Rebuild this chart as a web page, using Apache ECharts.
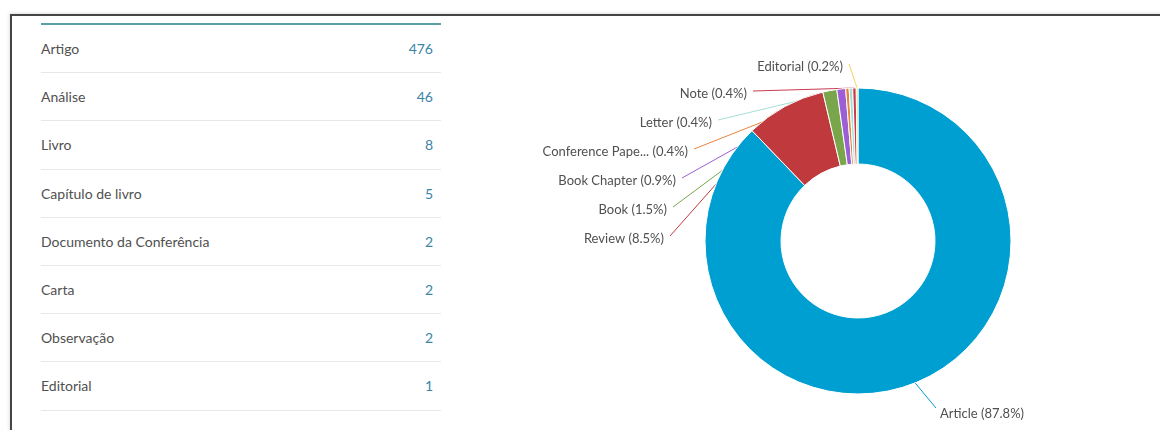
<!DOCTYPE html>
<html>
<head>
<meta charset="utf-8">
<script src="https://cdn.jsdelivr.net/npm/echarts@6/dist/echarts.min.js"></script>
<style>
  html, body { margin: 0; padding: 0; background: #fff; }
  body { width: 1160px; height: 430px; position: relative; overflow: hidden; font-family: Lato, "Open Sans", sans-serif; }
  #frame {
    position: absolute; left: 10px; top: 14px; right: -10px; bottom: -10px;
    border-top: 2px solid #454545; border-left: 2px solid #454545;
    box-shadow: -1px -1px 3px rgba(0,0,0,0.12);
  }
  #chart { position: absolute; left: 0; top: 0; width: 1160px; height: 430px; }
  #table {
    position: absolute; left: 41px; top: 23px; width: 400px;
    border-top: 2px solid #5a9fa6;
  }
  .row {
    box-sizing: border-box; height: 48.2px; border-bottom: 1px solid #e8e8e8;
    display: flex; justify-content: space-between; align-items: center;
    padding-right: 8px; font-size: 14px; color: #505050;
  }
  .row .n { color: #3a84a6; }
</style>
</head>
<body>
<div id="frame"></div>
<div id="table"></div>
<div id="chart"></div>
<script>
// Document types, in the order they are counted
const typeNamesPt = ['Artigo', 'Análise', 'Livro', 'Capítulo de livro', 'Documento da Conferência', 'Carta', 'Observação', 'Editorial'];
const typeNamesEn = ['Article', 'Review', 'Book', 'Book Chapter', 'Conference Paper', 'Letter', 'Note', 'Editorial'];
const docCounts = [476, 46, 8, 5, 2, 2, 2, 1];

// Slice colours
const sliceColors = ['#009fd1', '#c0393d', '#7aa64b', '#9b5fd3', '#e8833c', '#a3e0d5', '#c83b50', '#f0d46a'];

// Where each slice label sits (right edge for labels on the left side)
const labelSpots = [
  { x: 940, y: 414, align: 'left' },
  { x: 664, y: 239, align: 'right' },
  { x: 667, y: 210, align: 'right' },
  { x: 676, y: 181, align: 'right' },
  { x: 688, y: 152, align: 'right' },
  { x: 712, y: 123, align: 'right' },
  { x: 747, y: 94, align: 'right' },
  { x: 843, y: 67, align: 'right' }
];

// Left-hand list of types with counts
const table = document.getElementById('table');
typeNamesPt.forEach(function (name, i) {
  const row = document.createElement('div');
  row.className = 'row';
  const a = document.createElement('span');
  a.textContent = name;
  const b = document.createElement('span');
  b.className = 'n';
  b.textContent = docCounts[i];
  row.appendChild(a);
  row.appendChild(b);
  table.appendChild(row);
});

const total = docCounts.reduce(function (s, v) { return s + v; }, 0);
function shortName(n) { return n.length > 15 ? n.slice(0, 15) + '...' : n; }

const chart = echarts.init(document.getElementById('chart'), null, { renderer: 'canvas' });
chart.setOption({
  animation: false,
  color: sliceColors,
  series: [{
    type: 'pie',
    center: [858, 241],
    radius: [77, 153],
    startAngle: 90,
    clockwise: true,
    avoidLabelOverlap: false,
    itemStyle: { borderColor: '#fff', borderWidth: 1 },
    label: {
      show: true,
      fontFamily: 'Lato, "Open Sans", sans-serif',
      fontSize: 13,
      color: '#505050',
      formatter: function (p) {
        return shortName(p.name) + ' (' + (p.value / total * 100).toFixed(1) + '%)';
      }
    },
    labelLine: { show: true, length: 10, length2: 10, lineStyle: { width: 1 } },
    labelLayout: function (p) {
      const s = labelSpots[p.dataIndex];
      const pts = p.labelLinePoints;
      const end = s.align === 'right' ? [s.x + 6, s.y - 3] : [s.x - 4, s.y - 6];
      const out = { x: s.x, y: s.y, align: s.align, verticalAlign: 'middle' };
      if (pts && pts.length) out.labelLinePoints = [pts[0], end];
      return out;
    },
    data: typeNamesEn.map(function (n, i) { return { name: n, value: docCounts[i] }; })
  }]
});
</script>
</body>
</html>
